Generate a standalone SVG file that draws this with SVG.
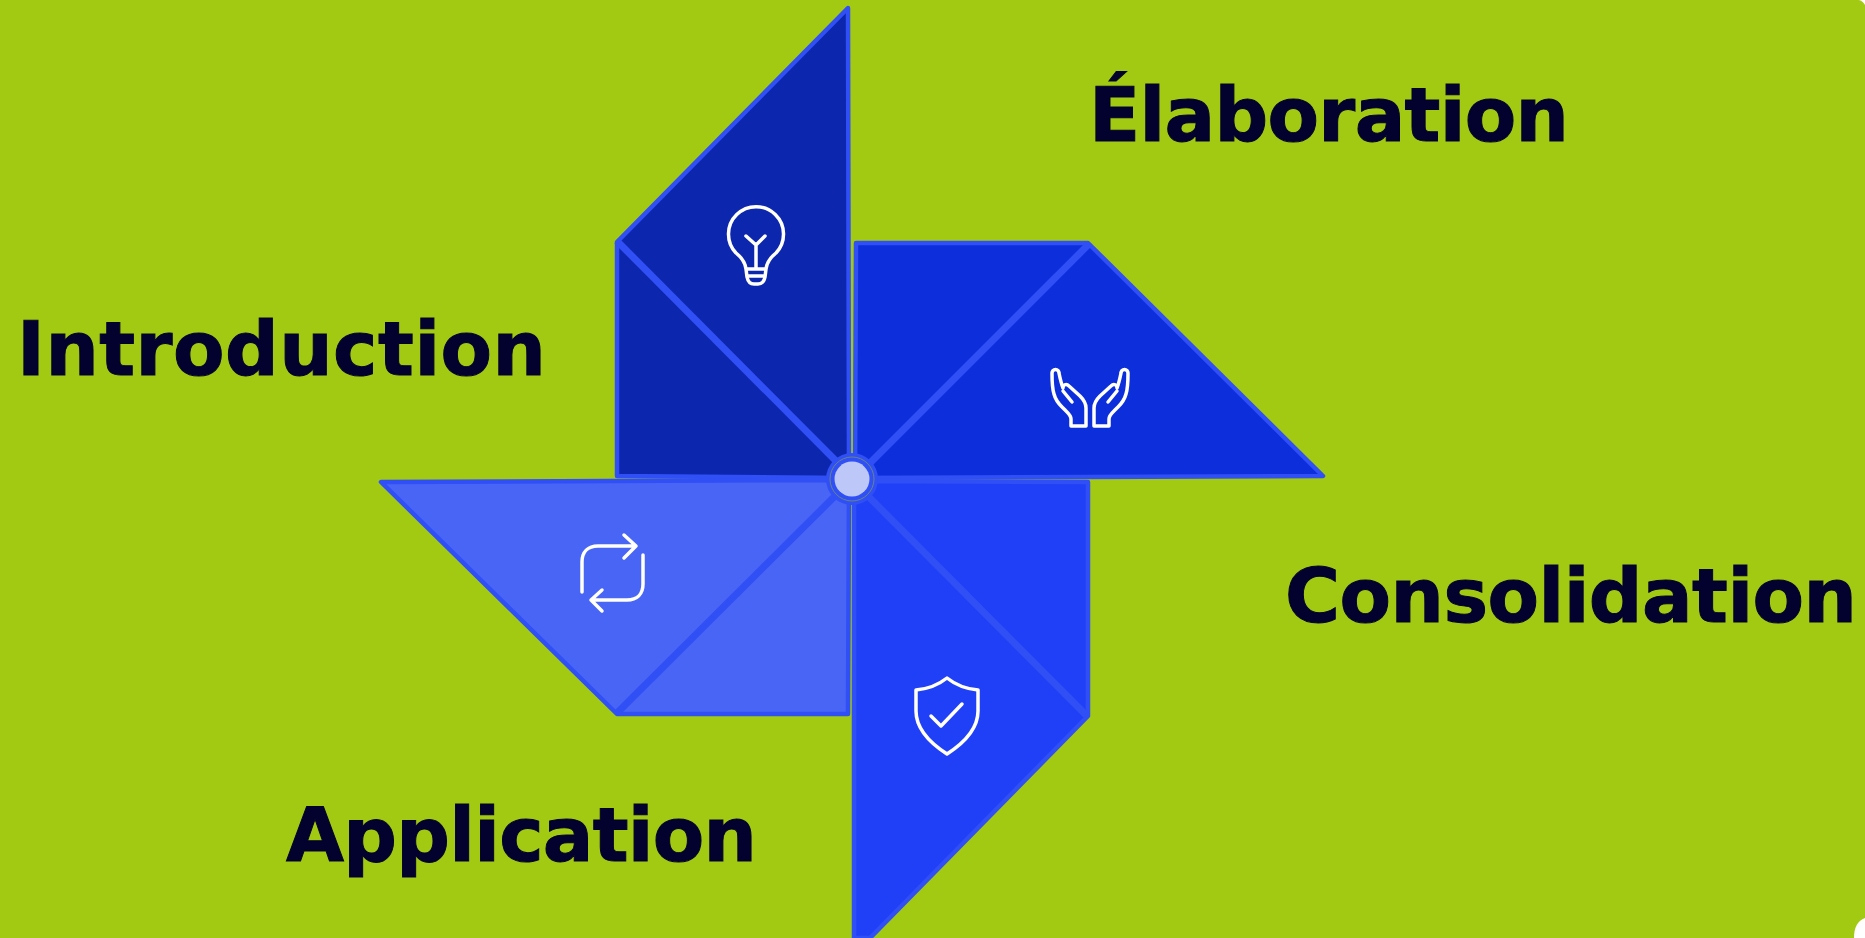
<svg xmlns="http://www.w3.org/2000/svg" width="1865" height="938" viewBox="0 0 1865 938">
<style>
.p{stroke:#304ff5;stroke-width:4.5;stroke-linejoin:round}
.f{fill:none;stroke:#304ff5;stroke-width:7;stroke-linecap:butt}
.i{fill:none;stroke:#fff;stroke-width:3.5;stroke-linecap:round;stroke-linejoin:round}
.t{font-family:"DejaVu Sans",sans-serif;font-weight:700;font-size:75px;fill:#03012d;stroke:#03012d;stroke-width:1}
</style>
<path d="M0 0H1858Q1862 0 1865 5V918Q1854 922 1854 938H0Z" fill="#a3ca12"/>
<g id="petal-introduction">
<path class="p" d="M848 8L617 242V476L849 478Z" fill="#0c26ad"/>
<path class="f" d="M617 241L836 461"/>
<path class="i" d="M746 269C745 261 741 257 736 253A27.5 27.5 0 1 1 776 253C771 257 767 261 766 269L765 277C764 282 762 284 758 284H754C750 284 748 282 747 277ZM746 236L756 245L765 236M756 245V269M746 269H766M748 276H764"/>
</g>
<g id="petal-elaboration">
<path class="p" d="M856 243H1088L1323 476L855 478Z" fill="#0c2fdb"/>
<path class="f" d="M1089 244L870 463"/>
<g id="hand-l"><path class="i" d="M1071 426H1086V408C1086 403 1084 400 1080 396L1069 386C1066 383 1063 385 1063 388C1061 383 1060 378 1059 373A3.5 3.5 0 0 0 1052 373C1052 380 1052 388 1054 394C1056 402 1060 405 1064 409C1068 413 1071 415 1071 419ZM1063 391L1072 402"/></g>
<g id="hand-r" transform="translate(2180,0) scale(-1,1)"><path class="i" d="M1071 426H1086V408C1086 403 1084 400 1080 396L1069 386C1066 383 1063 385 1063 388C1061 383 1060 378 1059 373A3.5 3.5 0 0 0 1052 373C1052 380 1052 388 1054 394C1056 402 1060 405 1064 409C1068 413 1071 415 1071 419ZM1063 391L1072 402"/></g>
</g>
<g id="petal-consolidation">
<path class="p" d="M854 481L1088 482V716L870 938H854Z" fill="#2040f7"/>
<path class="f" d="M1087 716L867 495"/>
<path class="i" d="M947 678C937 686 927 689 916 690V711C916 728 930 743 947 754C964 743 978 728 978 711V690C967 689 957 686 947 678ZM931 716L941 726L962 704"/>
</g>
<g id="petal-application">
<path class="p" d="M381 482L849 480L848 714H617Z" fill="#4865f6"/>
<path class="f" d="M617 713L836 495"/>
<path class="i" d="M582 592V562C582 552 588 546 598 546H636M624 535L636 546L624 558M643 555V584C643 594 637 600 627 600H591M602 590L591 600L602 611"/>
</g>
<g id="center">
<circle cx="852" cy="479" r="26" fill="#304ff5"/>
<circle cx="852" cy="479" r="22" fill="none" stroke="#88a83a" stroke-width="1" stroke-opacity=".6"/>
<circle cx="852" cy="479" r="17.5" fill="#bec8f8"/>
</g>
<g id="connectors"/>
<text class="t" x="1089" y="141" textLength="480" lengthAdjust="spacing">Élaboration</text>
<text class="t" x="17" y="375" textLength="529" lengthAdjust="spacing">Introduction</text>
<text class="t" x="1285" y="622" textLength="572" lengthAdjust="spacing">Consolidation</text>
<text class="t" x="286" y="861" textLength="471" lengthAdjust="spacing">Application</text>
</svg>
